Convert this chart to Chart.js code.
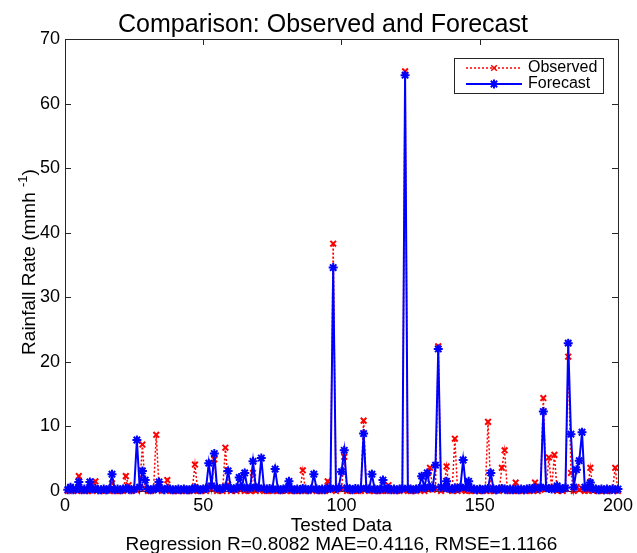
<!DOCTYPE html>
<html>
<head>
<meta charset="utf-8">
<title>Comparison: Observed and Forecast</title>
<script src="https://cdn.jsdelivr.net/npm/chart.js@4.4.1/dist/chart.umd.min.js"></script>
<style>
  html, body { margin: 0; padding: 0; background: #fff; }
  #wrap { width: 637px; height: 553px; }
</style>
</head>
<body>
<div id="wrap"><canvas id="grafica" width="637" height="553"></canvas></div>
<script>
// datos (indice de la muestra 1..200)
const testIndex = Array.from({ length: 200 }, (_, i) => i + 1)

const observed = [
  0, 0.2, 0, 0.1, 2.3, 0, 0.1, 0, 0.6, 0, 1.5, 0.2, 0, 0, 0.1, 0, 1.2, 0, 0.1, 0,
  0, 2.3, 0.9, 0, 0.2, 0.1, 0.5, 7.2, 0.4, 0, 0, 0.1, 8.7, 0.6, 0, 0.2, 1.7, 0, 0, 0.1,
  0, 0, 0.2, 0, 0, 0.1, 4.1, 0, 0, 0.2, 0, 0.8, 0.3, 4.9, 0, 0.1, 0, 6.7, 1.0, 0,
  0.2, 0, 0.3, 0.5, 0, 0.1, 0, 2.8, 0, 0.2, 0.4, 0, 0, 0.1, 0, 0.3, 0, 0, 0.1, 0,
  0.2, 0, 0, 0.1, 0, 3.2, 0, 0, 0.2, 0.3, 0, 0, 0.1, 0, 1.5, 0.2, 38.3, 0, 0.3, 0.4,
  5.3, 0, 0.1, 0, 0.2, 0, 0, 10.9, 0.3, 0, 0.2, 0, 0, 0.1, 0, 0, 0.9, 0, 0.1, 0,
  0, 0.2, 65.0, 0, 0, 0.1, 0, 0.2, 0.4, 0, 0.3, 3.6, 0.2, 0.4, 22.4, 0, 0.3, 3.8, 0.2, 0,
  8.1, 0, 0.2, 0.3, 0, 0.1, 0, 0, 0.2, 0, 0, 0.1, 10.7, 0, 0, 0.2, 0, 3.6, 6.3, 0,
  0.1, 0, 1.3, 0, 0, 0.2, 0, 0, 0.1, 1.3, 0, 0.2, 14.4, 0.3, 5.2, 0.4, 5.6, 0, 0.2, 0,
  0.3, 20.8, 2.8, 0, 0.6, 0.2, 0.4, 0, 0.1, 3.6, 0, 0.2, 0, 0, 0.1, 0, 0, 0.2, 3.6, 0
]

const forecast = [
  0.2, 0.6, 0.2, 0.3, 1.4, 0.2, 0.3, 0.2, 1.4, 0.3, 0.4, 0.2, 0.2, 0.3, 0.2, 0.3, 2.6, 0.2, 0.3, 0.2,
  0.3, 0.4, 0.3, 0.2, 0.3, 7.9, 0.6, 3.1, 1.7, 0.3, 0.2, 0.3, 0.4, 1.4, 0.3, 0.2, 0.4, 0.3, 0.2, 0.2,
  0.3, 0.2, 0.3, 0.2, 0.2, 0.3, 0.5, 0.3, 0.2, 0.3, 0.4, 4.3, 0.8, 5.8, 0.5, 0.3, 0.4, 0.6, 3.1, 0.4,
  0.3, 0.5, 2.1, 0.6, 2.8, 0.4, 0.5, 4.6, 0.6, 0.5, 5.1, 0.4, 0.3, 0.4, 0.3, 3.4, 0.3, 0.2, 0.3, 0.4,
  1.5, 0.3, 0.2, 0.3, 0.2, 0.4, 0.3, 0.2, 0.3, 2.6, 0.3, 0.2, 0.3, 0.2, 0.5, 0.4, 34.6, 0.4, 0.5, 3.0,
  6.3, 0.5, 0.3, 0.2, 0.4, 0.3, 0.4, 8.9, 0.4, 0.3, 2.6, 0.3, 0.2, 0.3, 1.7, 0.3, 0.4, 0.2, 0.3, 0.2,
  0.3, 0.4, 64.4, 0.4, 0.3, 0.2, 0.3, 0.4, 2.3, 0.5, 2.8, 0.6, 0.5, 4.0, 22.0, 0.6, 0.5, 1.5, 0.4, 0.3,
  0.5, 0.4, 0.6, 4.8, 0.5, 1.5, 0.4, 0.3, 0.2, 0.3, 0.2, 0.3, 0.4, 2.8, 0.3, 0.2, 0.3, 0.4, 0.3, 0.2,
  0.3, 0.2, 0.3, 0.2, 0.3, 0.2, 0.3, 0.4, 0.3, 0.5, 0.4, 0.6, 12.3, 0.5, 0.4, 0.3, 0.4, 0.8, 0.3, 0.4,
  0.5, 22.9, 8.8, 0.6, 3.3, 4.7, 9.1, 0.6, 0.5, 1.3, 0.4, 0.3, 0.2, 0.3, 0.2, 0.3, 0.2, 0.3, 0.2, 0.3
]

const xTicks = [0, 50, 100, 150, 200]
const yTicks = [0, 10, 20, 30, 40, 50, 60, 70]

const titulo = 'Comparison: Observed and Forecast'
const tituloX = 'Tested Data'
const subtituloX = 'Regression R=0.8082 MAE=0.4116, RMSE=1.1166'

const rojo = '#ff0000'
const azul = '#0000ff'
const fuente = "'Liberation Sans', Arial, Helvetica, sans-serif"

const estiloObs = { pointStyle: 'crossRot', radius: 4, borderWidth: 2, borderColor: rojo, backgroundColor: rojo }
const estiloFor = { pointStyle: 'star', radius: 4.5, borderWidth: 2, borderColor: azul, backgroundColor: azul }

// marco de ejes estilo matlab, ticks hacia adentro, textos y leyenda
const marcoEjes = {
  id: 'marcoEjes',
  beforeDatasetsDraw(chart) {
    const { ctx, chartArea: a, scales: { x, y } } = chart
    ctx.save()
    ctx.strokeStyle = '#262626'
    ctx.lineWidth = 1
    ctx.strokeRect(a.left + 0.5, a.top + 0.5, a.right - a.left, a.bottom - a.top)
    ctx.beginPath()
    xTicks.forEach(v => {
      const px = Math.round(x.getPixelForValue(v)) + 0.5
      ctx.moveTo(px, a.bottom); ctx.lineTo(px, a.bottom - 6)
      ctx.moveTo(px, a.top); ctx.lineTo(px, a.top + 6)
    })
    yTicks.forEach(v => {
      const py = Math.round(y.getPixelForValue(v)) + 0.5
      ctx.moveTo(a.left, py); ctx.lineTo(a.left + 6, py)
      ctx.moveTo(a.right, py); ctx.lineTo(a.right - 6, py)
    })
    ctx.stroke()
    ctx.restore()
  },
  afterDraw(chart) {
    const { ctx, chartArea: a } = chart
    const cx = (a.left + a.right) / 2
    ctx.save()
    ctx.fillStyle = '#000'

    // titulo
    ctx.font = '25px ' + fuente
    ctx.textAlign = 'center'
    ctx.textBaseline = 'alphabetic'
    ctx.fillText(titulo, 323, 32)

    // titulos eje x
    ctx.font = '19px ' + fuente
    ctx.fillText(tituloX, cx, 531)
    ctx.fillText(subtituloX, cx, 550)

    // titulo eje y con superindice
    const partes = ['Rainfall Rate (mmh ', '-1', ')']
    ctx.font = '19px ' + fuente
    const w0 = ctx.measureText(partes[0]).width
    const w2 = ctx.measureText(partes[2]).width
    ctx.font = '13px ' + fuente
    const w1 = ctx.measureText(partes[1]).width
    const total = w0 + w1 + w2
    ctx.translate(35, 262)
    ctx.rotate(-Math.PI / 2)
    ctx.textAlign = 'left'
    let px = -total / 2
    ctx.font = '19px ' + fuente
    ctx.fillText(partes[0], px, 0)
    px += w0
    ctx.font = '13px ' + fuente
    ctx.fillText(partes[1], px, -8)
    px += w1
    ctx.font = '19px ' + fuente
    ctx.fillText(partes[2], px, 0)
    ctx.setTransform(1, 0, 0, 1, 0, 0)

    // leyenda
    const lx = 454, ly = 58, lw = 149, lh = 35
    ctx.fillStyle = '#fff'
    ctx.fillRect(lx, ly, lw, lh)
    ctx.strokeStyle = '#262626'
    ctx.lineWidth = 1
    ctx.strokeRect(lx + 0.5, ly + 0.5, lw, lh)

    const filas = [
      { texto: 'Observed', color: rojo, ancho: 1.5, dash: [2, 2], estilo: estiloObs, y: 68 },
      { texto: 'Forecast', color: azul, ancho: 2, dash: [], estilo: estiloFor, y: 84 }
    ]
    filas.forEach(f => {
      ctx.beginPath()
      ctx.setLineDash(f.dash)
      ctx.strokeStyle = f.color
      ctx.lineWidth = f.ancho
      ctx.moveTo(466, f.y)
      ctx.lineTo(522, f.y)
      ctx.stroke()
      ctx.setLineDash([])
      Chart.helpers.drawPoint(ctx, f.estilo, 494, f.y)
      ctx.fillStyle = '#000'
      ctx.font = '16px ' + fuente
      ctx.textAlign = 'left'
      ctx.textBaseline = 'middle'
      ctx.fillText(f.texto, 528, f.y)
    })
    ctx.restore()
  }
}

const ctx = document.getElementById('grafica').getContext('2d')

const chart = new Chart(ctx, {
  type: 'line',
  data: {
    labels: testIndex,
    datasets: [{
      label: 'Observed',
      data: observed,
      borderColor: rojo,
      borderWidth: 1.5,
      borderDash: [2, 2],
      pointStyle: 'crossRot',
      pointRadius: 4,
      pointBorderWidth: 2,
      pointBorderColor: rojo,
      pointBackgroundColor: rojo,
      fill: false,
      tension: 0,
      clip: false,
      order: 1
    }, {
      label: 'Forecast',
      data: forecast,
      borderColor: azul,
      borderWidth: 2,
      pointStyle: 'star',
      pointRadius: 4.5,
      pointBorderWidth: 2,
      pointBorderColor: azul,
      pointBackgroundColor: azul,
      fill: false,
      tension: 0,
      clip: false,
      order: 0
    }]
  },
  options: {
    responsive: false,
    animation: false,
    devicePixelRatio: 1,
    layout: { padding: { top: 39, right: 18, left: 0, bottom: 0 } },
    plugins: {
      legend: { display: false },
      title: { display: false },
      tooltip: { enabled: false }
    },
    scales: {
      x: {
        type: 'linear',
        min: 0,
        max: 200,
        grid: { display: false, drawTicks: false },
        border: { display: false },
        ticks: {
          stepSize: 50,
          padding: 4,
          color: '#000',
          maxRotation: 0,
          font: { family: fuente, size: 18 }
        },
        afterFit(scale) { scale.height = 62 }
      },
      y: {
        min: 0,
        max: 70,
        grid: { display: false, drawTicks: false },
        border: { display: false },
        ticks: {
          stepSize: 10,
          padding: 5,
          color: '#000',
          font: { family: fuente, size: 18 }
        },
        afterFit(scale) { scale.width = 65 }
      }
    }
  },
  plugins: [marcoEjes]
})
</script>
</body>
</html>
